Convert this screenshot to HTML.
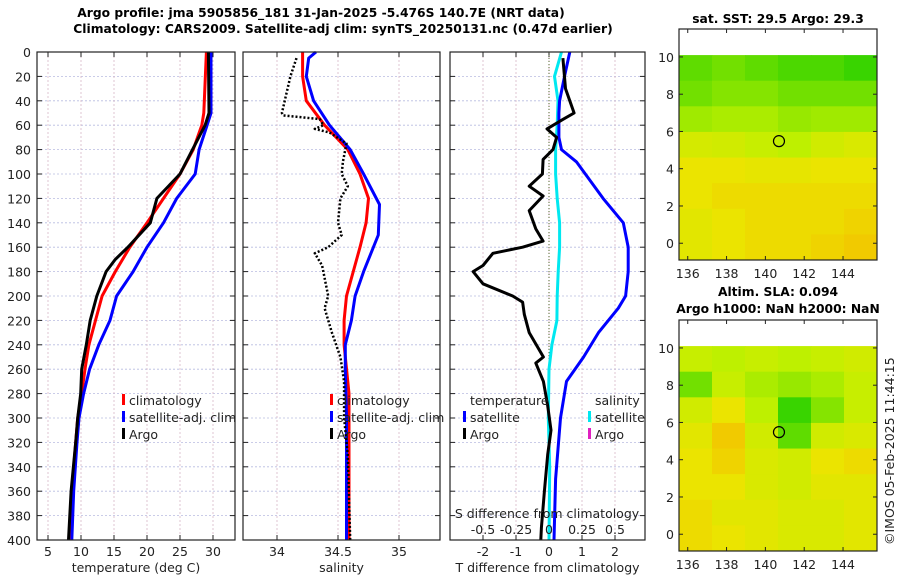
<!DOCTYPE html>
<html><head><meta charset="utf-8"><style>
body{margin:0;background:#fff}
svg{display:block;font-family:"DejaVu Sans","Liberation Sans",sans-serif}
</style></head><body>
<svg id="c" width="900" height="580" viewBox="0 0 900 580">
<text font-size="12.3" font-weight="bold" text-anchor="middle"><tspan x="321" y="17">Argo profile: jma 5905856_181 31-Jan-2025 -5.476S 140.7E (NRT data)</tspan><tspan x="343" y="33">Climatology: CARS2009. Satellite-adj clim: synTS_20250131.nc (0.47d earlier)</tspan></text>
<text x="778" y="23" font-size="12.3" font-weight="bold" text-anchor="middle">sat. SST: 29.5 Argo: 29.3</text>
<text x="778" y="296" font-size="12.3" font-weight="bold" text-anchor="middle">Altim. SLA: 0.094</text>
<text x="778" y="313" font-size="12.3" font-weight="bold" text-anchor="middle">Argo h1000: NaN h2000: NaN</text>
<text transform="translate(894,545) rotate(-90)" font-size="12.5" fill="#222">©IMOS 05-Feb-2025 11:44:15</text>
</svg>
<script>
// ---- data ----
const depthTicks=[0,20,40,60,80,100,120,140,160,180,200,220,240,260,280,300,320,340,360,380,400];
const tTicks=[5,10,15,20,25,30];
const sTicks=[34,34.5,35];
const dTicks=[-2,-1,0,1,2];
const sdTicks=[-0.5,-0.25,0,0.25,0.5];
const sdTickLabels=["-0.5","-0.25","0","0.25","0.5"];
const climTDepth=[0,50,60,80,100,120,140,160,180,200,220,240,260,280,300,320,360,400];
const climT=[29.0,28.6,28.3,27.0,25.0,22.5,20.0,17.4,15.2,13.2,12.2,11.2,10.6,10.1,9.5,9.2,8.6,8.2];
const satTDepth=[0,50,60,80,100,120,140,160,180,200,220,240,260,280,300,320,360,400];
const satT=[29.7,29.7,29.1,27.9,27.3,24.5,22.5,20.0,17.9,15.4,14.4,12.7,11.3,10.4,9.7,9.4,8.9,8.6];
const argoTDepth=[0,50,60,80,100,120,140,160,170,180,200,220,240,260,280,300,320,360,400];
const argoT=[29.3,29.4,28.8,26.9,25.0,21.5,20.5,17.1,15.2,13.8,12.4,11.4,10.8,10.1,9.95,9.5,9.2,8.5,8.1];
const climSDepth=[0,20,40,60,80,100,120,140,160,200,220,240,280,400];
const climS=[34.21,34.21,34.24,34.39,34.58,34.68,34.75,34.73,34.68,34.57,34.55,34.55,34.59,34.59];
const satSDepth=[0,5,20,40,60,80,100,125,150,180,200,220,240,260,300,400];
const satS=[34.32,34.26,34.24,34.30,34.43,34.60,34.71,34.84,34.83,34.71,34.64,34.61,34.56,34.56,34.57,34.57];
const argoSDepth=[5,20,50,52,55,60,63,66,75,90,100,110,120,140,150,160,165,175,200,210,230,250,270,300,330,400];
const argoS=[34.16,34.11,34.04,34.05,34.35,34.38,34.31,34.43,34.57,34.54,34.53,34.58,34.52,34.50,34.53,34.42,34.31,34.37,34.42,34.39,34.45,34.52,34.55,34.55,34.58,34.60];
const argoTdDepth=[5,30,50,55,63,70,80,88,100,110,118,130,145,155,160,165,175,180,190,200,205,215,230,250,255,270,290,310,330,360,390,400];
const argoTd=[0.42,0.5,0.76,0.44,-0.06,0.23,0.12,-0.18,-0.2,-0.6,-0.18,-0.6,-0.4,-0.18,-0.8,-1.7,-2.0,-2.3,-2.0,-1.1,-0.8,-0.75,-0.6,-0.17,-0.4,-0.17,-0.04,0.06,-0.04,-0.14,-0.23,-0.25];
const satTdDepth=[0,20,40,50,70,80,90,120,140,160,180,200,210,230,250,270,300,350,400];
const satTd=[0.63,0.47,0.32,0.3,0.3,0.38,0.83,1.64,2.25,2.4,2.4,2.32,2.1,1.5,1.05,0.53,0.35,0.2,0.15];
const satSdDepth=[0,20,40,60,80,100,120,140,160,180,200,220,240,260,300,340,400];
const satSd=[0.095,0.042,0.068,0.062,0.05,0.05,0.062,0.08,0.08,0.07,0.062,0.06,0.022,0.0,-0.005,0.005,0.0];
const lonTicks=[136,138,140,142,144];
const latTicks=[0,2,4,6,8,10];
const sstGrid=[[0.25,0.3,0.25,0.2,0.2,0.15],[0.3,0.35,0.35,0.3,0.3,0.3],[0.42,0.45,0.45,0.4,0.42,0.42],[0.62,0.6,0.55,0.5,0.6,0.65],[0.75,0.75,0.72,0.72,0.75,0.75],[0.75,0.8,0.8,0.8,0.8,0.8],[0.7,0.75,0.8,0.8,0.8,0.85],[0.7,0.75,0.8,0.8,0.85,0.9]];
const slaGrid=[[0.55,0.5,0.55,0.5,0.55,0.6],[0.3,0.55,0.45,0.4,0.45,0.55],[0.6,0.75,0.5,0.15,0.35,0.55],[0.7,0.9,0.6,0.25,0.6,0.65],[0.75,0.85,0.65,0.6,0.75,0.8],[0.75,0.75,0.65,0.6,0.7,0.7],[0.8,0.7,0.7,0.65,0.65,0.7],[0.8,0.75,0.7,0.65,0.65,0.7]];
const floatLon=[140.7];
const floatLat=[5.48];

// ---- scales ----
const NS="http://www.w3.org/2000/svg";
const svg=document.getElementById('c');
const Y0=52,Y1=540;
const yD=d=>Y0+d*(Y1-Y0)/400;
const xT=t=>48+(t-5)*6.6;
const xS=s=>277+(s-34)*122;
const xD=d=>549+d*33;
const xSd=s=>549+s*4*33;
function mk(tag,attrs,parent){const e=document.createElementNS(NS,tag);for(const k in attrs)e.setAttribute(k,attrs[k]);(parent||svg).appendChild(e);return e;}
function txt(x,y,s,anchor,size,parent){const e=mk('text',{x:x,y:y,'font-size':size||12.5,'text-anchor':anchor||'middle',fill:'#222'},parent);e.textContent=s;return e;}

const panels=[
 {x0:37,x1:235,ticks:tTicks,fx:xT,label:'temperature (deg C)',name:'temperature-panel'},
 {x0:243,x1:440,ticks:sTicks,fx:xS,label:'salinity',name:'salinity-panel'},
 {x0:450,x1:645,ticks:dTicks,fx:xD,label:'T difference from climatology',name:'difference-panel'}];
panels.forEach((p,i)=>{
 const g=mk('g',{});
 
 
 depthTicks.forEach(d=>{
  const l=mk('line',{x1:p.x0,x2:p.x1,y1:yD(d),y2:yD(d),stroke:'#b8bce0','stroke-width':0.8,'stroke-dasharray':'2,2'},g);
  
  
  mk('line',{x1:p.x0,x2:p.x0+5,y1:yD(d),y2:yD(d),stroke:'#222'},g);
  mk('line',{x1:p.x1,x2:p.x1-5,y1:yD(d),y2:yD(d),stroke:'#222'},g);
  if(i===0){const t=txt(31,yD(d)+5,String(d),'end',12.5,g);}
 });
 p.ticks.forEach(v=>{
  const x=p.fx(v);
  mk('line',{x1:x,x2:x,y1:Y0,y2:Y1,stroke:'#d8b8c8','stroke-width':0.8,'stroke-dasharray':'2,2'},g);
  mk('line',{x1:x,x2:x,y1:Y1,y2:Y1-5,stroke:'#222'},g);
  mk('line',{x1:x,x2:x,y1:Y0,y2:Y0+5,stroke:'#222'},g);
  const t=txt(x,556,String(v),'middle',12.5,g);
  
  
 });
 const lb=txt((p.x0+p.x1)/2,572,p.label,'middle',12.5,g);
 
 
});
const zl=mk('line',{x1:xD(0),x2:xD(0),y1:Y0,y2:Y1,stroke:'#556b2f','stroke-width':1,'stroke-dasharray':'1,2'});



function line(depths,vals,fx,color,name,dash,w){
 const pts=depths.map((d,i)=>fx(vals[i]).toFixed(1)+','+yD(d).toFixed(1)).join(' ');
 const e=mk('polyline',{points:pts,fill:'none',stroke:color,'stroke-width':w||3,'stroke-linejoin':'round'});
 if(dash)e.setAttribute('stroke-dasharray',dash);
 
 
}
line(climTDepth,climT,xT,'#ff0000','temp-climatology-line');
line(satTDepth,satT,xT,'#0000ff','temp-satellite-line');
line(argoTDepth,argoT,xT,'#000','temp-argo-line');
line(climSDepth,climS,xS,'#ff0000','sal-climatology-line');
line(satSDepth,satS,xS,'#0000ff','sal-satellite-line');
line(argoSDepth,argoS,xS,'#000','sal-argo-line','2,2',2.5);
line(satSdDepth,satSd,xSd,'#00e8f0','sdiff-satellite-line');
line(satTdDepth,satTd,xD,'#0000ff','tdiff-satellite-line');
line(argoTdDepth,argoTd,xD,'#000','tdiff-argo-line');

panels.forEach(p=>{const f=mk('rect',{x:p.x0,y:Y0,width:p.x1-p.x0,height:Y1-Y0,fill:'none',stroke:'#222','stroke-width':1.2});});

function legend(x,y,color,label){
 const g=mk('g',{});
 
 
 mk('rect',{x:x,y:y-11,width:3,height:11,fill:color},g);
 txt(x+7,y,label,'start',12.5,g);
}
[[122,'#f00','climatology'],[122,'#00f','satellite-adj. clim'],[122,'#000','Argo']].forEach((l,i)=>legend(l[0],405+i*17,l[1],l[2]));
[[330,'#f00','climatology'],[330,'#00f','satellite-adj. clim'],[330,'#000','Argo']].forEach((l,i)=>legend(l[0],405+i*17,l[1],l[2]));
txt(470,405,'temperature','start',12.5);
txt(595,405,'salinity','start',12.5);
legend(463,422,'#00f','satellite');legend(463,439,'#000','Argo');
legend(588,422,'#00e8f0','satellite');legend(588,439,'#e020c0','Argo');
const sdt=txt(547,518,'S difference from climatology','middle',12.5);


sdTicks.forEach((v,i)=>{const t=txt(xSd(v),534,sdTickLabels[i],'middle',12.5);});

function cmap(v){
 const stops=[[0,[0,200,0]],[0.5,[190,240,0]],[0.75,[235,228,0]],[1,[245,185,0]]];
 for(let i=1;i<stops.length;i++){if(v<=stops[i][0]){const a=stops[i-1],b=stops[i],t=(v-a[0])/(b[0]-a[0]);return 'rgb('+a[1].map((c,j)=>Math.round(c+(b[1][j]-c)*t)).join(',')+')';}}
 return 'rgb(245,185,0)';
}
function drawMap(grid,top,name){
 const fx0=679,fx1=877,fy0=top,fy1=top+231;
 const lonMin=135.55,lonMax=145.75,latMin=-0.9,latMax=11.5;
 const mx=l=>fx0+(l-lonMin)/(lonMax-lonMin)*(fx1-fx0);
 const my=l=>fy1-(l-latMin)/(latMax-latMin)*(fy1-fy0);
 const g=mk('g',{});
 
 
 const rows=grid.length,cols=grid[0].length;
 const la0=10.1,la1=latMin,lo0=lonMin,lo1=lonMax;
 grid.forEach((row,r)=>row.forEach((v,c)=>{
  const x=mx(lo0+(lo1-lo0)*c/cols),x2=mx(lo0+(lo1-lo0)*(c+1)/cols);
  const y=my(la0-(la0-la1)*r/rows),y2=my(la0-(la0-la1)*(r+1)/rows);
  const cell=mk('rect',{x:x,y:y,width:x2-x+0.5,height:y2-y+0.5,fill:cmap(v)},g);
  
  
 }));
 floatLon.forEach((lo,i)=>{const ci=mk('circle',{cx:mx(lo),cy:my(floatLat[i]),r:5.5,fill:'none',stroke:'#000','stroke-width':1.2},g);});
 mk('rect',{x:fx0,y:fy0,width:fx1-fx0,height:fy1-fy0,fill:'none',stroke:'#222','stroke-width':1.2},g);
 latTicks.forEach(l=>{const y=my(l);mk('line',{x1:fx0,x2:fx0+4,y1:y,y2:y,stroke:'#222'},g);mk('line',{x1:fx1,x2:fx1-4,y1:y,y2:y,stroke:'#222'},g);const t=txt(674,y+5,String(l),'end',12.5,g);});
 lonTicks.forEach(l=>{const x=mx(l);mk('line',{x1:x,x2:x,y1:fy1,y2:fy1-4,stroke:'#222'},g);mk('line',{x1:x,x2:x,y1:fy0,y2:fy0+4,stroke:'#222'},g);const t=txt(x,fy1+18,String(l),'middle',12.5,g);});
}
drawMap(sstGrid,29,'sst-map');
drawMap(slaGrid,320,'sla-map');
</script>
</body></html>
